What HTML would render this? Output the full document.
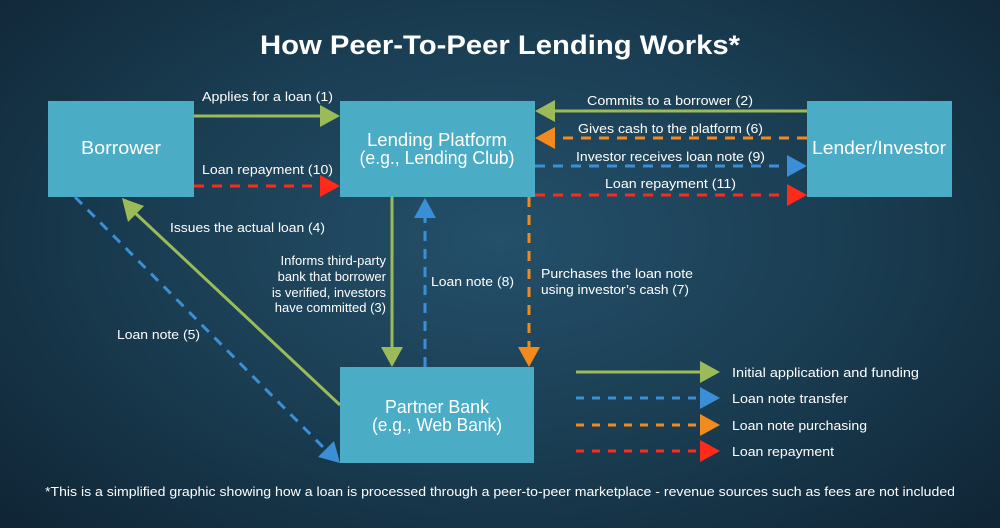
<!DOCTYPE html>
<html><head><meta charset="utf-8"><style>
html,body{margin:0;padding:0;width:1000px;height:528px;overflow:hidden}
body{background:radial-gradient(ellipse 70% 80% at 50% 45%,#24506a 0%,#1a3d52 50%,#0f2434 100%);font-family:"Liberation Sans",sans-serif}
svg text{font-family:"Liberation Sans",sans-serif;fill:#fff}
</style></head><body>
<svg width="1000" height="528" viewBox="0 0 1000 528" xmlns="http://www.w3.org/2000/svg">
<text x="500" y="54" text-anchor="middle" font-size="27" font-weight="bold" textLength="480" lengthAdjust="spacingAndGlyphs">How Peer-To-Peer Lending Works*</text>

<g fill="#4bacc6">
<rect x="48" y="101" width="146" height="96"/>
<rect x="340" y="101" width="195" height="96"/>
<rect x="807" y="101" width="145" height="96"/>
<rect x="340" y="367" width="194" height="96"/>
</g>
<g font-size="18" text-anchor="middle">
<text x="121" y="154" textLength="80" lengthAdjust="spacingAndGlyphs">Borrower</text>
<text x="437" y="146" textLength="140" lengthAdjust="spacingAndGlyphs">Lending Platform</text>
<text x="437" y="164" textLength="155" lengthAdjust="spacingAndGlyphs">(e.g., Lending Club)</text>
<text x="879" y="154" textLength="134" lengthAdjust="spacingAndGlyphs">Lender/Investor</text>
<text x="437" y="413" textLength="104" lengthAdjust="spacingAndGlyphs">Partner Bank</text>
<text x="437" y="431" textLength="130" lengthAdjust="spacingAndGlyphs">(e.g., Web Bank)</text>
</g>

<g stroke-width="3" fill="none">
<line x1="194" y1="116" x2="322" y2="116" stroke="#9bbb59"/>
<line x1="194" y1="186" x2="322" y2="186" stroke="#ff2a1a" stroke-dasharray="10,8"/>
<line x1="807" y1="111" x2="552" y2="111" stroke="#9bbb59"/>
<line x1="807" y1="138" x2="552" y2="138" stroke="#f28a1c" stroke-dasharray="10,8"/>
<line x1="535" y1="166" x2="788" y2="166" stroke="#3b8fd6" stroke-dasharray="10,8"/>
<line x1="535" y1="195" x2="788" y2="195" stroke="#ff2a1a" stroke-dasharray="10,8"/>
<line x1="392" y1="197" x2="392" y2="350" stroke="#9bbb59"/>
<line x1="425" y1="367" x2="425" y2="218" stroke="#3b8fd6" stroke-dasharray="10,8"/>
<line x1="529" y1="197" x2="529" y2="350" stroke="#f28a1c" stroke-dasharray="10,8"/>
<line x1="340" y1="405" x2="133" y2="211" stroke="#9bbb59"/>
<line x1="75" y1="197" x2="326" y2="450" stroke="#3b8fd6" stroke-dasharray="10,8"/>
<line x1="576" y1="372" x2="702" y2="372" stroke="#9bbb59"/>
<line x1="576" y1="398" x2="702" y2="398" stroke="#3b8fd6" stroke-dasharray="8,8"/>
<line x1="576" y1="425" x2="702" y2="425" stroke="#f28a1c" stroke-dasharray="8,8"/>
<line x1="576" y1="451" x2="702" y2="451" stroke="#ff2a1a" stroke-dasharray="8,8"/>
</g>
<path d="M320,105L340,116L320,127z" fill="#9bbb59"/>
<path d="M320,175L340,186L320,197z" fill="#ff2a1a"/>
<path d="M555,100L535,111L555,122z" fill="#9bbb59"/>
<path d="M555,127L535,138L555,149z" fill="#f28a1c"/>
<path d="M787,155L807,166L787,177z" fill="#3b8fd6"/>
<path d="M787,184L807,195L787,206z" fill="#ff2a1a"/>
<path d="M381,347L392,367L403,347z" fill="#9bbb59"/>
<path d="M414,218L425,198L436,218z" fill="#3b8fd6"/>
<path d="M518,347L529,367L540,347z" fill="#f28a1c"/>
<path d="M122,198L144,206L128,222z" fill="#9bbb59"/>
<path d="M340,463L318,457L334,441z" fill="#3b8fd6"/>
<path d="M700,361L720,372L700,383z" fill="#9bbb59"/>
<path d="M700,387L720,398L700,409z" fill="#3b8fd6"/>
<path d="M700,414L720,425L700,436z" fill="#f28a1c"/>
<path d="M700,440L720,451L700,462z" fill="#ff2a1a"/>

<g font-size="13">
<text x="202" y="101" textLength="131" lengthAdjust="spacingAndGlyphs">Applies for a loan (1)</text>
<text x="202" y="174" textLength="131" lengthAdjust="spacingAndGlyphs">Loan repayment (10)</text>
<text x="587" y="105" textLength="166" lengthAdjust="spacingAndGlyphs">Commits to a borrower (2)</text>
<text x="578" y="133" textLength="185" lengthAdjust="spacingAndGlyphs">Gives cash to the platform (6)</text>
<text x="576" y="161" textLength="189" lengthAdjust="spacingAndGlyphs">Investor receives loan note (9)</text>
<text x="605" y="188" textLength="131" lengthAdjust="spacingAndGlyphs">Loan repayment (11)</text>
<text x="170" y="232" textLength="155" lengthAdjust="spacingAndGlyphs">Issues the actual loan (4)</text>
<text x="386" y="265" text-anchor="end">Informs third-party</text>
<text x="386" y="281" text-anchor="end">bank that borrower</text>
<text x="386" y="297" text-anchor="end">is verified, investors</text>
<text x="386" y="312" text-anchor="end">have committed (3)</text>
<text x="431" y="286" textLength="83" lengthAdjust="spacingAndGlyphs">Loan note (8)</text>
<text x="541" y="278" textLength="152" lengthAdjust="spacingAndGlyphs">Purchases the loan note</text>
<text x="541" y="294" textLength="148" lengthAdjust="spacingAndGlyphs">using investor’s cash (7)</text>
<text x="117" y="339" textLength="83" lengthAdjust="spacingAndGlyphs">Loan note (5)</text>
<text x="732" y="377" textLength="187" lengthAdjust="spacingAndGlyphs">Initial application and funding</text>
<text x="732" y="403" textLength="116" lengthAdjust="spacingAndGlyphs">Loan note transfer</text>
<text x="732" y="430" textLength="135" lengthAdjust="spacingAndGlyphs">Loan note purchasing</text>
<text x="732" y="456" textLength="102" lengthAdjust="spacingAndGlyphs">Loan repayment</text>
<text x="45" y="496" textLength="910" lengthAdjust="spacingAndGlyphs">*This is a simplified graphic showing how a loan is processed through a peer-to-peer marketplace - revenue sources such as fees are not included</text>
</g>
</svg>
</body></html>
